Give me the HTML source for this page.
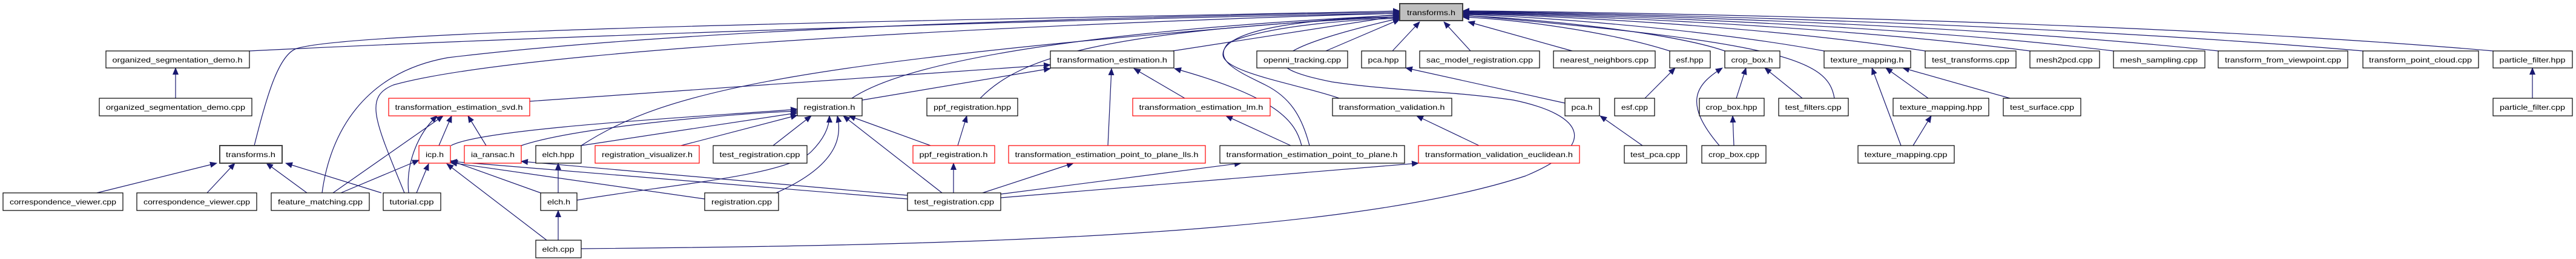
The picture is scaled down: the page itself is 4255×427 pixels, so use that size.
<!DOCTYPE html>
<html><head><meta charset="utf-8"><style>body{margin:0;background:#fff}svg{display:block}</style></head><body>
<svg width="4255" height="427" viewBox="0 0 4255 427" xmlns="http://www.w3.org/2000/svg" font-family="Liberation Sans, sans-serif" font-size="12">
<defs><marker id="a" markerUnits="userSpaceOnUse" markerWidth="12" markerHeight="10" refX="11" refY="5" orient="auto"><path d="M0,0 L12,5 L0,10 z" fill="#191970"/></marker></defs>
<g fill="none" stroke="#191970" stroke-width="1.2" marker-end="url(#a)">
<path d="M412,84 C900,60 1800,30 2312,22"/>
<path d="M290,162 L290,112"/>
<path d="M420,240 C440,160 460,90 490,80 C600,45 1800,30 2312,18"/>
<path d="M160,318 L358,269"/><path d="M342,318 L388,269"/><path d="M507,318 L440,269"/><path d="M630,318 L472,269"/>
<path d="M532,318 C545,220 600,120 740,95 C1200,40 2000,25 2312,20"/>
<path d="M668,318 C620,200 600,160 650,140 C900,70 2000,30 2312,22"/>
<path d="M550,318 L732,191"/><path d="M563,318 L692,264"/>
<path d="M675,318 C670,270 690,220 722,191"/><path d="M688,318 L708,270"/>
<path d="M725,240 L746,191"/><path d="M803,240 L773,191"/>
<path d="M745,240 C800,210 1200,190 1317,180"/>
<path d="M861,240 C950,210 1200,188 1317,183"/>
<path d="M960,240 L1317,186"/>
<path d="M960,240 C1100,150 1300,100 2312,24"/>
<path d="M1125,240 L1317,190"/>
<path d="M1277,240 L1340,191"/>
<path d="M922,318 L922,269"/><path d="M922,396 L922,347"/>
<path d="M893,318 L745,265"/>
<path d="M953,330 C1100,305 1300,290 1340,250 C1360,230 1370,210 1370,191"/>
<path d="M903,396 L738,270"/>
<path d="M960,410 C1500,405 2200,395 2520,290 C2640,240 2620,190 2500,165 C2400,150 2300,150 2200,135 C2100,115 2050,90 2312,30"/>
<path d="M1499,328 L744,266"/><path d="M1499,322 L861,266"/>
<path d="M1164,328 L744,268"/>
<path d="M1282,318 C1390,270 1390,220 1383,191"/>
<path d="M1556,318 L1393,191"/>
<path d="M1537,240 L1402,191"/><path d="M1582,240 L1597,191"/>
<path d="M1575,318 L1575,269"/>
<path d="M1623,318 L1773,269"/><path d="M1653,320 L2050,269"/><path d="M1653,326 L2343,269"/>
<path d="M1424,165 L1735,113"/>
<path d="M1407,162 C1500,100 1800,50 2312,25"/>
<path d="M875,167 L1735,107"/>
<path d="M1619,162 C1680,100 1800,50 2312,28"/>
<path d="M1957,162 L1873,113"/><path d="M1830,240 L1836,113"/>
<path d="M2150,240 C2140,200 2110,160 1940,113"/>
<path d="M2132,240 L2025,191"/>
<path d="M1937,84 L2312,26"/>
<path d="M2212,162 C2150,140 2020,120 2020,90 C2020,50 2150,30 2312,28"/>
<path d="M2163,240 C2150,190 2130,160 2090,140 C2050,120 2000,100 2030,70 C2100,40 2250,32 2312,30"/>
<path d="M2443,240 L2340,191"/>
<path d="M2190,84 L2312,32"/>
<path d="M2300,84 L2345,36"/><path d="M2429,84 L2385,36"/><path d="M2597,84 L2425,36"/>
<path d="M2758,84 C2650,50 2500,32 2416,28"/>
<path d="M2849,84 C2750,50 2500,28 2416,26"/>
<path d="M3030,162 C3020,100 2950,70 2416,25"/>
<path d="M3013,84 C2800,45 2500,25 2416,24"/>
<path d="M3180,84 C2900,40 2500,23 2416,23"/>
<path d="M3353,84 C3000,38 2500,22 2416,22"/>
<path d="M3491,84 C3100,36 2500,21 2416,21"/>
<path d="M3664,84 C3200,34 2500,20 2416,20"/>
<path d="M3903,84 C3300,32 2500,19 2416,19"/>
<path d="M4118,84 C3500,30 2500,18 2416,18"/>
<path d="M2585,170 L2322,112"/><path d="M2713,240 L2643,191"/>
<path d="M2717,162 L2767,112"/><path d="M2868,162 L2884,112"/>
<path d="M2840,240 C2780,170 2800,140 2845,112"/>
<path d="M2864,240 L2862,191"/><path d="M2977,162 L2915,112"/>
<path d="M3185,162 L3115,112"/><path d="M3140,240 L3092,112"/>
<path d="M3160,240 L3190,191"/><path d="M3320,162 L3143,112"/>
<path d="M4183,162 L4183,112"/>
</g>
<g stroke-width="1.2">
<g fill="#fff" stroke="#000">
<rect x="175" y="84" width="237" height="28"/><rect x="164" y="162" width="252" height="29"/>
<rect x="363" y="240" width="103" height="29" stroke="#404040" stroke-width="2"/>
<rect x="5" y="318" width="198" height="29"/><rect x="226" y="318" width="198" height="29"/>
<rect x="448" y="318" width="162" height="29"/><rect x="633" y="318" width="95" height="29"/>
<rect x="885" y="240" width="75" height="29"/><rect x="893" y="318" width="60" height="29"/><rect x="885" y="396" width="75" height="29"/>
<rect x="1735" y="84" width="204" height="28"/><rect x="2076" y="84" width="150" height="28"/>
<rect x="1317" y="162" width="107" height="29"/><rect x="1531" y="162" width="150" height="29"/>
<rect x="1178" y="240" width="155" height="29"/><rect x="2015" y="240" width="305" height="29"/>
<rect x="1164" y="318" width="122" height="29"/><rect x="1499" y="318" width="154" height="29"/>
<rect x="2249" y="84" width="73" height="28"/><rect x="2345" y="84" width="198" height="28"/>
<rect x="2566" y="84" width="168" height="28"/><rect x="2758" y="84" width="67" height="28"/>
<rect x="2849" y="84" width="91" height="28"/><rect x="3013" y="84" width="143" height="28"/>
<rect x="2201" y="162" width="197" height="29"/><rect x="2585" y="162" width="57" height="29"/>
<rect x="2667" y="162" width="66" height="29"/><rect x="2807" y="162" width="107" height="29"/>
<rect x="2938" y="162" width="115" height="29"/><rect x="3127" y="162" width="158" height="29"/>
<rect x="2683" y="240" width="103" height="29"/><rect x="2811" y="240" width="106" height="29"/>
<rect x="3069" y="240" width="159" height="29"/>
<rect x="3180" y="84" width="150" height="28"/><rect x="3353" y="84" width="115" height="28"/>
<rect x="3491" y="84" width="151" height="28"/><rect x="3664" y="84" width="214" height="28"/>
<rect x="3903" y="84" width="191" height="28"/><rect x="4118" y="84" width="131" height="28"/>
<rect x="3309" y="162" width="128" height="29"/><rect x="4118" y="162" width="131" height="29"/>
</g>
<g fill="#fff" stroke="#ff0000">
<rect x="642" y="162" width="233" height="29"/><rect x="692" y="240" width="52" height="29"/>
<rect x="767" y="240" width="94" height="29"/><rect x="983" y="240" width="172" height="29"/>
<rect x="1871" y="162" width="227" height="29"/><rect x="1508" y="240" width="135" height="29"/>
<rect x="1666" y="240" width="325" height="29"/><rect x="2343" y="240" width="266" height="29"/>
</g>
<rect x="2312" y="6" width="104" height="28" fill="#bfbfbf" stroke="#404040" stroke-width="2"/>
</g>
<g fill="#000" text-anchor="middle" lengthAdjust="spacingAndGlyphs">
<text x="2364" y="25" textLength="80" lengthAdjust="spacingAndGlyphs">transforms.h</text>
<text x="293" y="103" textLength="215" lengthAdjust="spacingAndGlyphs">organized_segmentation_demo.h</text>
<text x="290" y="181" textLength="230" lengthAdjust="spacingAndGlyphs">organized_segmentation_demo.cpp</text>
<text x="414" y="259" textLength="82" lengthAdjust="spacingAndGlyphs">transforms.h</text>
<text x="104" y="337" textLength="176" lengthAdjust="spacingAndGlyphs">correspondence_viewer.cpp</text>
<text x="325" y="337" textLength="176" lengthAdjust="spacingAndGlyphs">correspondence_viewer.cpp</text>
<text x="529" y="337" textLength="140" lengthAdjust="spacingAndGlyphs">feature_matching.cpp</text>
<text x="680" y="337" textLength="73" lengthAdjust="spacingAndGlyphs">tutorial.cpp</text>
<text x="758" y="181" textLength="211" lengthAdjust="spacingAndGlyphs">transformation_estimation_svd.h</text>
<text x="718" y="259" textLength="30" lengthAdjust="spacingAndGlyphs">icp.h</text>
<text x="814" y="259" textLength="72" lengthAdjust="spacingAndGlyphs">ia_ransac.h</text>
<text x="922" y="259" textLength="53" lengthAdjust="spacingAndGlyphs">elch.hpp</text>
<text x="1069" y="259" textLength="150" lengthAdjust="spacingAndGlyphs">registration_visualizer.h</text>
<text x="923" y="337" textLength="38" lengthAdjust="spacingAndGlyphs">elch.h</text>
<text x="922" y="415" textLength="53" lengthAdjust="spacingAndGlyphs">elch.cpp</text>
<text x="1837" y="103" textLength="182" lengthAdjust="spacingAndGlyphs">transformation_estimation.h</text>
<text x="2151" y="103" textLength="128" lengthAdjust="spacingAndGlyphs">openni_tracking.cpp</text>
<text x="1370" y="181" textLength="85" lengthAdjust="spacingAndGlyphs">registration.h</text>
<text x="1606" y="181" textLength="128" lengthAdjust="spacingAndGlyphs">ppf_registration.hpp</text>
<text x="1984" y="181" textLength="205" lengthAdjust="spacingAndGlyphs">transformation_estimation_lm.h</text>
<text x="1255" y="259" textLength="133" lengthAdjust="spacingAndGlyphs">test_registration.cpp</text>
<text x="1575" y="259" textLength="113" lengthAdjust="spacingAndGlyphs">ppf_registration.h</text>
<text x="1828" y="259" textLength="303" lengthAdjust="spacingAndGlyphs">transformation_estimation_point_to_plane_lls.h</text>
<text x="2167" y="259" textLength="283" lengthAdjust="spacingAndGlyphs">transformation_estimation_point_to_plane.h</text>
<text x="1225" y="337" textLength="100" lengthAdjust="spacingAndGlyphs">registration.cpp</text>
<text x="1576" y="337" textLength="132" lengthAdjust="spacingAndGlyphs">test_registration.cpp</text>
<text x="2285" y="103" textLength="51" lengthAdjust="spacingAndGlyphs">pca.hpp</text>
<text x="2444" y="103" textLength="176" lengthAdjust="spacingAndGlyphs">sac_model_registration.cpp</text>
<text x="2650" y="103" textLength="146" lengthAdjust="spacingAndGlyphs">nearest_neighbors.cpp</text>
<text x="2791" y="103" textLength="45" lengthAdjust="spacingAndGlyphs">esf.hpp</text>
<text x="2894" y="103" textLength="69" lengthAdjust="spacingAndGlyphs">crop_box.h</text>
<text x="3084" y="103" textLength="121" lengthAdjust="spacingAndGlyphs">texture_mapping.h</text>
<text x="2299" y="181" textLength="175" lengthAdjust="spacingAndGlyphs">transformation_validation.h</text>
<text x="2613" y="181" textLength="35" lengthAdjust="spacingAndGlyphs">pca.h</text>
<text x="2700" y="181" textLength="44" lengthAdjust="spacingAndGlyphs">esf.cpp</text>
<text x="2860" y="181" textLength="85" lengthAdjust="spacingAndGlyphs">crop_box.hpp</text>
<text x="2995" y="181" textLength="93" lengthAdjust="spacingAndGlyphs">test_filters.cpp</text>
<text x="3206" y="181" textLength="136" lengthAdjust="spacingAndGlyphs">texture_mapping.hpp</text>
<text x="2476" y="259" textLength="244" lengthAdjust="spacingAndGlyphs">transformation_validation_euclidean.h</text>
<text x="2734" y="259" textLength="82" lengthAdjust="spacingAndGlyphs">test_pca.cpp</text>
<text x="2864" y="259" textLength="84" lengthAdjust="spacingAndGlyphs">crop_box.cpp</text>
<text x="3148" y="259" textLength="137" lengthAdjust="spacingAndGlyphs">texture_mapping.cpp</text>
<text x="3255" y="103" textLength="128" lengthAdjust="spacingAndGlyphs">test_transforms.cpp</text>
<text x="3410" y="103" textLength="93" lengthAdjust="spacingAndGlyphs">mesh2pcd.cpp</text>
<text x="3566" y="103" textLength="128" lengthAdjust="spacingAndGlyphs">mesh_sampling.cpp</text>
<text x="3771" y="103" textLength="192" lengthAdjust="spacingAndGlyphs">transform_from_viewpoint.cpp</text>
<text x="3998" y="103" textLength="170" lengthAdjust="spacingAndGlyphs">transform_point_cloud.cpp</text>
<text x="4183" y="103" textLength="109" lengthAdjust="spacingAndGlyphs">particle_filter.hpp</text>
<text x="3373" y="181" textLength="106" lengthAdjust="spacingAndGlyphs">test_surface.cpp</text>
<text x="4183" y="181" textLength="108" lengthAdjust="spacingAndGlyphs">particle_filter.cpp</text>
</g>
</svg>
</body></html>
